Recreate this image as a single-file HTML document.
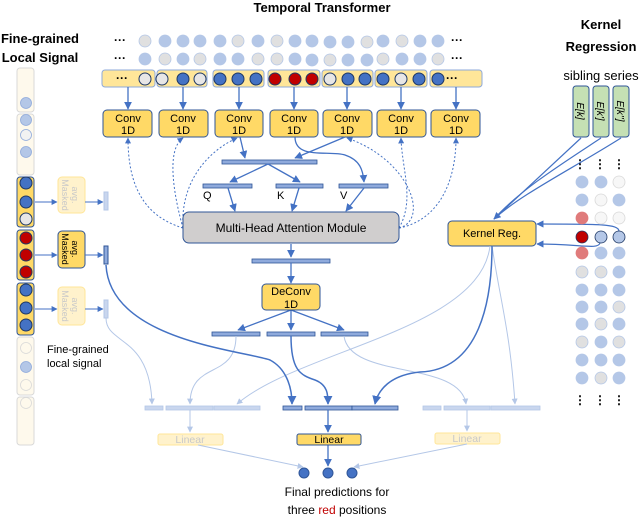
<!DOCTYPE html>
<html><head><meta charset="utf-8"><style>
html,body{margin:0;padding:0;background:#fff;}
svg{display:block;font-family:"Liberation Sans",sans-serif;}
</style></head><body>
<svg width="640" height="517" viewBox="0 0 640 517" xmlns="http://www.w3.org/2000/svg">
<defs>
<marker id="a" viewBox="0 0 10 10" refX="9" refY="5" markerWidth="6" markerHeight="6" orient="auto"><path d="M0,0L10,5L0,10z" fill="#4472c4"/></marker>
<marker id="al" viewBox="0 0 10 10" refX="9" refY="5" markerWidth="6" markerHeight="6" orient="auto"><path d="M0,0L10,5L0,10z" fill="#b4c7e7"/></marker>
</defs>
<!-- titles -->
<text x="322" y="12" font-size="13" font-weight="bold" text-anchor="middle">Temporal Transformer</text>
<text x="40" y="43" font-size="13" font-weight="bold" text-anchor="middle">Fine-grained</text>
<text x="40" y="62" font-size="13" font-weight="bold" text-anchor="middle">Local Signal</text>
<text x="601" y="29" font-size="13" font-weight="bold" text-anchor="middle">Kernel</text>
<text x="601" y="51" font-size="13" font-weight="bold" text-anchor="middle">Regression</text>
<text x="601" y="80" font-size="13" text-anchor="middle">sibling series</text>

<!-- top dot rows -->
<g font-size="12" font-weight="bold"><text x="114" y="44">···</text><text x="114" y="62">···</text><text x="451" y="44">···</text><text x="451" y="62">···</text></g>
<g stroke="#b4c7e7" stroke-width="0.8">
<circle cx="145" cy="41" r="6" fill="#e0e0e0"/><circle cx="165" cy="41" r="6" fill="#b4c7e7"/><circle cx="183" cy="41" r="6" fill="#b4c7e7"/><circle cx="200" cy="41" r="6" fill="#b4c7e7"/><circle cx="220" cy="41" r="6" fill="#b4c7e7"/><circle cx="238" cy="41" r="6" fill="#e0e0e0"/><circle cx="258" cy="41" r="6" fill="#b4c7e7"/><circle cx="277" cy="41" r="6" fill="#e0e0e0"/><circle cx="295" cy="41" r="6" fill="#b4c7e7"/><circle cx="312" cy="41" r="6" fill="#b4c7e7"/><circle cx="330" cy="42" r="6" fill="#b4c7e7"/><circle cx="348" cy="42" r="6" fill="#b4c7e7"/><circle cx="367" cy="42" r="6" fill="#e0e0e0"/><circle cx="383" cy="41" r="6" fill="#b4c7e7"/><circle cx="402" cy="41" r="6" fill="#e0e0e0"/><circle cx="420" cy="41" r="6" fill="#b4c7e7"/><circle cx="438" cy="41" r="6" fill="#b4c7e7"/>
<circle cx="145" cy="59" r="6" fill="#b4c7e7"/><circle cx="165" cy="59" r="6" fill="#e0e0e0"/><circle cx="183" cy="59" r="6" fill="#b4c7e7"/><circle cx="200" cy="59" r="6" fill="#e0e0e0"/><circle cx="220" cy="59" r="6" fill="#b4c7e7"/><circle cx="238" cy="59" r="6" fill="#b4c7e7"/><circle cx="258" cy="59" r="6" fill="#e0e0e0"/><circle cx="277" cy="59" r="6" fill="#e0e0e0"/><circle cx="295" cy="59" r="6" fill="#b4c7e7"/><circle cx="312" cy="60" r="6" fill="#b4c7e7"/><circle cx="330" cy="60" r="6" fill="#e0e0e0"/><circle cx="348" cy="60" r="6" fill="#b4c7e7"/><circle cx="367" cy="60" r="6" fill="#b4c7e7"/><circle cx="383" cy="59" r="6" fill="#e0e0e0"/><circle cx="402" cy="59" r="6" fill="#b4c7e7"/><circle cx="420" cy="59" r="6" fill="#b4c7e7"/><circle cx="438" cy="59" r="6" fill="#e0e0e0"/>
</g>
<!-- row 3 segments -->
<g fill="#ffe699" stroke="#8ea9db" stroke-width="1">
<rect x="102" y="70" width="53" height="17" rx="3"/><rect x="157" y="70" width="50" height="17" rx="3"/><rect x="213" y="70" width="51" height="17" rx="3"/><rect x="268" y="70" width="52" height="17" rx="3"/><rect x="322" y="70" width="51" height="17" rx="3"/><rect x="375" y="70" width="52" height="17" rx="3"/><rect x="430" y="70" width="52" height="17" rx="3"/>
</g>
<text x="116" y="82" font-size="12" font-weight="bold">···</text><text x="446" y="82" font-size="12" font-weight="bold">···</text>
<g stroke="#1f3864" stroke-width="1">
<circle cx="145" cy="79" r="6" fill="#e7e6e6"/><circle cx="162" cy="79" r="6" fill="#e7e6e6"/><circle cx="183" cy="79" r="6" fill="#4472c4"/><circle cx="200" cy="79" r="6" fill="#e7e6e6"/>
<circle cx="220" cy="79" r="6" fill="#4472c4"/><circle cx="238" cy="79" r="6" fill="#4472c4"/><circle cx="256" cy="79" r="6" fill="#4472c4"/>
<circle cx="275" cy="79" r="6" fill="#c00000"/><circle cx="295" cy="79" r="6" fill="#c00000"/><circle cx="312" cy="79" r="6" fill="#c00000"/>
<circle cx="330" cy="79" r="6" fill="#e7e6e6"/><circle cx="348" cy="79" r="6" fill="#4472c4"/><circle cx="365" cy="79" r="6" fill="#4472c4"/>
<circle cx="383" cy="79" r="6" fill="#4472c4"/><circle cx="401" cy="79" r="6" fill="#e7e6e6"/><circle cx="419" cy="79" r="6" fill="#4472c4"/>
<circle cx="438" cy="79" r="6" fill="#4472c4"/>
</g>
<!-- arrows to conv -->
<g stroke="#4472c4" stroke-width="1.3" marker-end="url(#a)">
<line x1="128" y1="87" x2="128" y2="109"/><line x1="183" y1="87" x2="183" y2="109"/><line x1="239" y1="87" x2="239" y2="109"/><line x1="294" y1="87" x2="294" y2="109"/><line x1="347" y1="87" x2="347" y2="109"/><line x1="401" y1="87" x2="401" y2="109"/><line x1="456" y1="87" x2="456" y2="109"/>
</g>
<!-- conv boxes -->
<g fill="#ffd966" stroke="#2f5597" stroke-width="1">
<rect x="103" y="110" width="49" height="27" rx="4"/><rect x="159" y="110" width="49" height="27" rx="4"/><rect x="215" y="110" width="48" height="27" rx="4"/><rect x="270" y="110" width="48" height="27" rx="4"/><rect x="323" y="110" width="49" height="27" rx="4"/><rect x="377" y="110" width="49" height="27" rx="4"/><rect x="431" y="110" width="49" height="27" rx="4"/>
</g>
<g font-size="11" text-anchor="middle">
<text x="128" y="122">Conv</text><text x="128" y="134">1D</text>
<text x="183" y="122">Conv</text><text x="183" y="134">1D</text>
<text x="239" y="122">Conv</text><text x="239" y="134">1D</text>
<text x="294" y="122">Conv</text><text x="294" y="134">1D</text>
<text x="347" y="122">Conv</text><text x="347" y="134">1D</text>
<text x="401" y="122">Conv</text><text x="401" y="134">1D</text>
<text x="456" y="122">Conv</text><text x="456" y="134">1D</text>
</g>
<!-- dashed -->
<g fill="none" stroke="#4472c4" stroke-width="1" stroke-dasharray="2,2" marker-end="url(#a)">
<path d="M183,228 C140,215 128,180 128,138"/>
<path d="M183,228 C175,200 165,150 183,138"/>
<path d="M183,228 C180,180 210,150 237,138"/>
<path d="M399,228 C430,220 410,160 347,138"/>
<path d="M399,228 C415,200 402,170 401,138"/>
<path d="M399,228 C440,220 456,180 456,138"/>
</g>
<!-- bars -->
<g fill="#8faadc" stroke="#2f5597" stroke-width="0.8">
<rect x="222" y="160" width="95" height="4"/>
<rect x="203" y="184" width="49" height="4"/><rect x="276" y="184" width="47" height="4"/><rect x="339" y="184" width="49" height="4"/>
<rect x="252" y="259" width="78" height="4"/>
<rect x="212" y="332" width="48" height="4"/><rect x="267" y="332" width="48" height="4"/><rect x="321" y="332" width="47" height="4"/>
<rect x="283" y="406" width="19" height="4"/><rect x="305" y="406" width="47" height="4"/><rect x="352" y="406" width="46" height="4"/>
</g>
<g fill="#c9d6ee" stroke="#b4c7e7" stroke-width="0.8">
<rect x="145" y="406" width="18" height="4"/><rect x="166" y="406" width="47" height="4"/><rect x="214" y="406" width="46" height="4"/>
<rect x="423" y="406" width="18" height="4"/><rect x="444" y="406" width="46" height="4"/><rect x="491" y="406" width="49" height="4"/>
</g>
<g font-size="11"><text x="203" y="199">Q</text><text x="277" y="199">K</text><text x="340" y="199">V</text></g>
<g fill="none" stroke="#4472c4" stroke-width="1.3" marker-end="url(#a)">
<line x1="240" y1="137" x2="245" y2="158"/>
<path d="M295,137 C295,160 330,150 345,155 C360,160 363,170 364,182"/>
<line x1="345" y1="137" x2="295" y2="158"/>
<line x1="268" y1="164" x2="230" y2="182"/>
<line x1="268" y1="164" x2="300" y2="182"/>
<line x1="228" y1="188" x2="235" y2="211"/><line x1="299" y1="188" x2="292" y2="211"/><line x1="364" y1="188" x2="346" y2="211"/>
<line x1="291" y1="244" x2="291" y2="257"/><line x1="291" y1="263" x2="291" y2="283"/>
<line x1="291" y1="310" x2="238" y2="330"/><line x1="291" y1="310" x2="291" y2="330"/><line x1="291" y1="310" x2="344" y2="330"/>
<line x1="328" y1="410" x2="328" y2="432"/><line x1="328" y1="445" x2="328" y2="466"/>
</g>
<!-- MHA -->
<rect x="183" y="212" width="216" height="31" rx="6" fill="#d0cece" stroke="#2f5597" stroke-width="1"/>
<text x="291" y="232" font-size="12" text-anchor="middle">Multi-Head Attention Module</text>
<!-- DeConv -->
<rect x="262" y="284" width="58" height="26" rx="4" fill="#ffd966" stroke="#2f5597"/>
<text x="291" y="295" font-size="11" text-anchor="middle">DeConv</text><text x="291" y="308" font-size="11" text-anchor="middle">1D</text>
<!-- Kernel Reg -->
<rect x="448" y="221" width="88" height="25" rx="4" fill="#ffd966" stroke="#2f5597"/>
<text x="492" y="237" font-size="11" text-anchor="middle">Kernel Reg.</text>
<!-- Linear boxes -->
<rect x="158" y="434" width="65" height="11" rx="2" fill="#fff2cc" stroke="#ffe699"/>
<text x="190" y="443" font-size="10.5" text-anchor="middle" fill="#c9c9c9">Linear</text>
<rect x="297" y="434" width="64" height="11" rx="2" fill="#ffd966" stroke="#2f5597"/>
<text x="329" y="443" font-size="10.5" text-anchor="middle">Linear</text>
<rect x="435" y="433" width="65" height="11" rx="2" fill="#fff2cc" stroke="#ffe699"/>
<text x="467" y="442" font-size="10.5" text-anchor="middle" fill="#c9c9c9">Linear</text>
<!-- final dots -->
<g fill="#4472c4" stroke="#2f5597"><circle cx="304" cy="473" r="5"/><circle cx="328" cy="473" r="5"/><circle cx="352" cy="473" r="5"/></g>
<text x="337" y="496" font-size="12" text-anchor="middle">Final predictions for</text>
<text x="337" y="514" font-size="12" text-anchor="middle">three <tspan fill="#c00000">red</tspan> positions</text>
<!-- light curves -->
<g fill="none" stroke="#b4c7e7" stroke-width="1" marker-end="url(#al)">
<path d="M106,318 C106,345 150,335 152,404"/>
<path d="M236,336 C236,380 190,360 190,404"/>
<path d="M490,246 C480,330 300,350 237,404"/>
<path d="M344,336 C350,380 460,360 466,404"/>
<path d="M492,246 C500,300 510,330 515,404"/>
<line x1="190" y1="410" x2="190" y2="432"/>
<line x1="467" y1="410" x2="467" y2="431"/>
<line x1="198" y1="445" x2="303" y2="467"/>
<line x1="467" y1="444" x2="354" y2="467"/>
</g>
<!-- dark curves -->
<g fill="none" stroke="#4472c4" stroke-width="1.5" marker-end="url(#a)">
<path d="M106,265 C110,340 240,350 270,360 C285,368 292,385 292,404"/>
<path d="M291,336 C291,370 300,375 315,380 C328,385 328,395 328,404"/>
<path d="M492,246 C492,300 480,370 420,372 C390,375 378,390 375,404"/>
</g>
<!-- left column -->
<g stroke="#d9d9d9" fill="#fef9ec" stroke-width="1">
<rect x="17" y="68" width="17" height="44" rx="3"/><rect x="17" y="114" width="17" height="61" rx="3"/><rect x="17" y="337" width="17" height="58" rx="3"/><rect x="17" y="397" width="17" height="48" rx="3"/>
</g>
<g stroke="#2f5597" fill="#ffd966" stroke-width="1">
<rect x="17" y="177" width="17" height="50" rx="3"/><rect x="17" y="230" width="17" height="50" rx="3"/><rect x="17" y="283" width="17" height="52" rx="3"/>
</g>
<g stroke="#8faadc" stroke-width="0.8">
<circle cx="26" cy="103" r="5.5" fill="#b4c7e7"/><circle cx="26" cy="120" r="5.5" fill="#b4c7e7"/><circle cx="26" cy="135" r="5.5" fill="#f2f2f2"/><circle cx="26" cy="152" r="5.5" fill="#b4c7e7"/>
<circle cx="26" cy="348" r="5.5" fill="#fef9ec" stroke="#d9d9d9"/><circle cx="26" cy="367" r="5.5" fill="#b4c7e7"/><circle cx="26" cy="385" r="5.5" fill="#fef9ec" stroke="#d9d9d9"/><circle cx="26" cy="403" r="5.5" fill="#fef9ec" stroke="#d9d9d9"/>
</g>
<g stroke="#1f3864" stroke-width="1">
<circle cx="26" cy="183" r="6" fill="#4472c4"/><circle cx="26" cy="202" r="6" fill="#4472c4"/><circle cx="26" cy="219" r="6" fill="#e7e6e6"/>
<circle cx="26" cy="238" r="6" fill="#c00000"/><circle cx="26" cy="255" r="6" fill="#c00000"/><circle cx="26" cy="272" r="6" fill="#c00000"/>
<circle cx="26" cy="290" r="6" fill="#4472c4"/><circle cx="26" cy="308" r="6" fill="#4472c4"/><circle cx="26" cy="325" r="6" fill="#4472c4"/>
</g>
<!-- masked avg -->
<rect x="58" y="177" width="27" height="36" rx="4" fill="#fff2cc" stroke="#ffe699"/>
<rect x="58" y="231" width="27" height="37" rx="4" fill="#ffd966" stroke="#2f5597"/>
<rect x="58" y="287" width="27" height="38" rx="4" fill="#fff2cc" stroke="#ffe699"/>
<g font-size="9" text-anchor="middle">
<text transform="translate(62,195) rotate(90)" fill="#c9c9c9">Masked</text><text transform="translate(72,195) rotate(90)" fill="#c9c9c9">avg.</text>
<text transform="translate(62,249) rotate(90)">Masked</text><text transform="translate(72,249) rotate(90)">avg.</text>
<text transform="translate(62,306) rotate(90)" fill="#c9c9c9">Masked</text><text transform="translate(72,306) rotate(90)" fill="#c9c9c9">avg.</text>
</g>
<g stroke-width="1">
<rect x="104" y="192" width="4" height="18" fill="#c9d6ee" stroke="#b4c7e7"/>
<rect x="104" y="246" width="4" height="18" fill="#8faadc" stroke="#2f5597"/>
<rect x="104" y="300" width="4" height="18" fill="#c9d6ee" stroke="#b4c7e7"/>
</g>
<g stroke="#4472c4" stroke-width="1" marker-end="url(#a)">
<line x1="35" y1="202" x2="57" y2="202"/><line x1="85" y1="202" x2="103" y2="202"/>
<line x1="35" y1="255" x2="57" y2="255"/><line x1="85" y1="255" x2="103" y2="255"/>
<line x1="35" y1="309" x2="57" y2="309"/><line x1="85" y1="309" x2="103" y2="309"/>
</g>
<text x="47" y="353" font-size="11">Fine-grained</text>
<text x="47" y="367" font-size="11">local signal</text>
<!-- kernel regression right -->
<g fill="#c5e0b4" stroke="#2f5597" stroke-width="1">
<rect x="573" y="86" width="16" height="51" rx="3"/><rect x="593" y="86" width="16" height="51" rx="3"/><rect x="613" y="86" width="16" height="51" rx="3"/>
</g>
<g font-size="10" font-style="italic" text-anchor="middle">
<text transform="translate(577,111) rotate(90)">E[k]</text>
<text transform="translate(597,111) rotate(90)">E[k']</text>
<text transform="translate(617,111) rotate(90)">E[k'']</text>
</g>
<g fill="none" stroke="#4472c4" stroke-width="1.2">
<line x1="581" y1="138" x2="494" y2="219" marker-end="url(#a)"/>
<path d="M601,138 C560,165 520,190 494,219"/>
<path d="M621,138 C570,170 520,195 494,219"/>
<path d="M619,231 C618,224 600,224 537,224" marker-end="url(#a)"/>
<path d="M600,243 C598,250 580,244 537,244" marker-end="url(#a)"/>
</g>
<g font-size="12" font-weight="bold" text-anchor="middle">
<text x="580" y="168">⋮</text><text x="600" y="168">⋮</text><text x="619" y="168">⋮</text>
<text x="580" y="404">⋮</text><text x="600" y="404">⋮</text><text x="619" y="404">⋮</text>
</g>
<g stroke="#b4c7e7" stroke-width="0.8">
<circle cx="582" cy="182" r="6" fill="#b4c7e7"/><circle cx="601" cy="182" r="6" fill="#b4c7e7"/><circle cx="619" cy="182" r="6" fill="#f7f7f7" stroke="#d9d9d9"/>
<circle cx="582" cy="200" r="6" fill="#b4c7e7"/><circle cx="601" cy="200" r="6" fill="#f7f7f7" stroke="#d9d9d9"/><circle cx="619" cy="200" r="6" fill="#b4c7e7"/>
<circle cx="582" cy="218" r="6" fill="#e07b7b" stroke="#e07b7b"/><circle cx="601" cy="218" r="6" fill="#f7f7f7" stroke="#d9d9d9"/><circle cx="619" cy="218" r="6" fill="#f7f7f7" stroke="#d9d9d9"/>
<circle cx="582" cy="237" r="6" fill="#c00000" stroke="#1f3864"/><circle cx="601" cy="237" r="6" fill="#b4c7e7" stroke="#1f3864"/><circle cx="619" cy="237" r="6" fill="#b4c7e7" stroke="#1f3864"/>
<circle cx="582" cy="253" r="6" fill="#e07b7b" stroke="#e07b7b"/><circle cx="601" cy="253" r="6" fill="#b4c7e7"/><circle cx="619" cy="253" r="6" fill="#b4c7e7"/>
<circle cx="582" cy="272" r="6" fill="#e0e0e0"/><circle cx="601" cy="272" r="6" fill="#e0e0e0"/><circle cx="619" cy="272" r="6" fill="#b4c7e7"/>
<circle cx="582" cy="290" r="6" fill="#b4c7e7"/><circle cx="601" cy="290" r="6" fill="#b4c7e7"/><circle cx="619" cy="290" r="6" fill="#b4c7e7"/>
<circle cx="582" cy="307" r="6" fill="#b4c7e7"/><circle cx="601" cy="307" r="6" fill="#b4c7e7"/><circle cx="619" cy="307" r="6" fill="#e0e0e0"/>
<circle cx="582" cy="324" r="6" fill="#b4c7e7"/><circle cx="601" cy="324" r="6" fill="#e0e0e0"/><circle cx="619" cy="324" r="6" fill="#b4c7e7"/>
<circle cx="582" cy="342" r="6" fill="#e0e0e0"/><circle cx="601" cy="342" r="6" fill="#b4c7e7"/><circle cx="619" cy="342" r="6" fill="#e0e0e0"/>
<circle cx="582" cy="360" r="6" fill="#b4c7e7"/><circle cx="601" cy="360" r="6" fill="#b4c7e7"/><circle cx="619" cy="360" r="6" fill="#b4c7e7"/>
<circle cx="582" cy="378" r="6" fill="#b4c7e7"/><circle cx="601" cy="378" r="6" fill="#e0e0e0"/><circle cx="619" cy="378" r="6" fill="#b4c7e7"/>
</g>
</svg>
</body></html>
